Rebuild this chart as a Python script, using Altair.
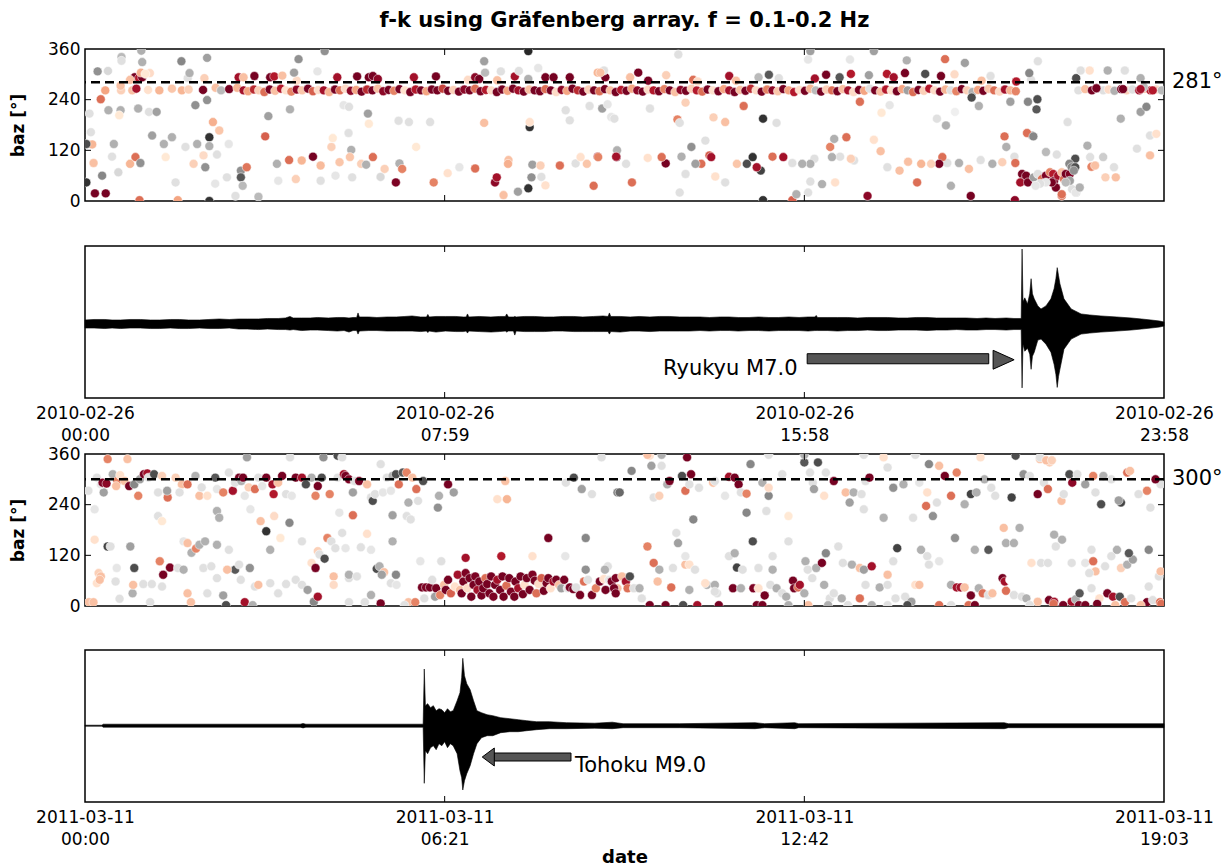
import json
import altair as alt
import pandas as pd

FONT = "DejaVu Sans"
PW = 1079
PH = 152
TITLE = "f-k using Gräfenberg array. f = 0.1-0.2 Hz"

rdgy_stops = [0.0, 0.1, 0.2, 0.3, 0.4, 0.5, 0.6, 0.7, 0.8, 0.9, 1.0]
rdgy_colors = ["#67001f", "#b2182b", "#d6604d", "#f4a582", "#fddbc7", "#ffffff",
               "#e0e0e0", "#bababa", "#878787", "#4d4d4d", "#1a1a1a"]

# ---------------- Ryukyu day (2010-02-26) ----------------
ryukyu_hours = 23.95
ryukyu_ticks = [0.0, 7.983, 15.967, 23.95]
ryukyu_tick_labels = [["2010-02-26", "00:00"], ["2010-02-26", "07:59"],
                      ["2010-02-26", "15:58"], ["2010-02-26", "23:58"]]
ryukyu_ref_baz = 281
ryukyu_ref_label = "281°"

# (hours, baz, colour value)
ryukyu_band = [
    (0.45,262,.30),(0.8,262,.38),(1.05,262,.35),(1.14,266,.08),(1.4,263,.42),(1.65,262,.33),(1.93,266,.36),
    (2.15,262,.33),(2.3,264,.38),(2.62,263,.02),(2.9,268,.35),(3.02,262,.7),(3.2,265,.02),(3.38,268,.33),
    (3.52,262,.08),(3.62,260,.3),(3.75,264,.12),(3.86,262,.38),(3.98,258,.22),(4.1,264,.02),(4.22,261,.35),
    (4.35,266,.1),(4.46,262,.42),(4.58,259,.25),(4.7,264,.05),(4.82,262,.36),(4.95,266,.02),(5.06,260,.2),
    (5.18,263,.4),(5.3,262,.08),(5.42,258,.33),(5.55,264,.02),(5.66,262,.22),(5.78,266,.4),(5.9,261,.05),
    (6.02,263,.3),(6.14,259,.02),(6.26,264,.12),(6.38,262,.02),(6.5,266,.35),(6.62,260,.05),(6.74,263,.02),
    (6.86,261,.25),(6.98,265,.02),(7.1,262,.42),(7.22,258,.02),(7.34,264,.1),(7.46,262,.02),(7.58,260,.3),
    (7.7,264,.02),(7.82,262,.02),(7.94,266,.15),(8.06,261,.02),(8.18,263,.38),(8.3,259,.02),(8.42,264,.05),
    (8.54,262,.02),(8.66,266,.22),(8.78,260,.02),(8.9,263,.1),(9.02,262,.4),(9.14,258,.02),(9.26,264,.02),
    (9.38,261,.3),(9.5,266,.02),(9.62,262,.08),(9.74,259,.02),(9.86,264,.35),(9.98,262,.02),(10.1,260,.02),
    (10.22,265,.22),(10.34,262,.02),(10.46,258,.4),(10.58,263,.05),(10.7,261,.3),(10.82,266,.02),(10.94,262,.12),
    (11.06,259,.02),(11.18,264,.38),(11.3,262,.02),(11.42,260,.22),(11.54,265,.02),(11.66,262,.35),(11.78,258,.02),
    (11.9,263,.1),(12.02,261,.02),(12.14,266,.3),(12.26,262,.05),(12.38,259,.02),(12.5,264,.4),(12.62,262,.1),
    (12.74,260,.02),(12.86,265,.25),(12.98,262,.02),(13.1,258,.35),(13.22,263,.05),(13.34,261,.02),(13.46,266,.38),
    (13.58,262,.1),(13.7,259,.22),(13.82,264,.02),(13.94,262,.42),(14.06,260,.02),(14.18,265,.3),(14.3,262,.08),
    (14.42,258,.02),(14.54,263,.35),(14.66,261,.02),(14.78,266,.12),(14.9,262,.4),(15.02,259,.02),(15.14,264,.25),
    (15.26,262,.05),(15.38,260,.36),(15.5,265,.02),(15.62,262,.3),(15.74,258,.1),(15.86,263,.42),(15.98,261,.02),
    (16.1,266,.33),(16.22,262,.7),(16.34,259,.02),(16.46,264,.38),(16.58,262,.22),(16.7,260,.02),(16.82,265,.35),
    (16.94,262,.08),(17.06,258,.4),(17.18,263,.02),(17.3,261,.3),(17.42,266,.6),(17.54,262,.02),(17.66,259,.35),
    (17.78,264,.1),(17.9,262,.42),(18.02,260,.02),(18.14,265,.3),(18.26,262,.75),(18.38,258,.22),(18.5,263,.02),
    (18.62,261,.38),(18.74,266,.1),(18.86,262,.4),(18.98,259,.02),(19.1,264,.33),(19.22,262,.6),(19.34,260,.25),
    (19.46,265,.02),(19.58,262,.38),(19.7,258,.72),(19.82,263,.3),(19.94,261,.02),(20.06,266,.36),(20.18,262,.22),
    (20.3,259,.4),(20.42,264,.08),(20.54,262,.33),(20.66,260,.25),
    (22.05,262,.6),(22.2,265,.35),(22.35,262,.02),(22.45,267,.02),(22.6,262,.6),(22.72,264,.4),(22.85,261,.72),
    (23.0,265,.02),(23.12,262,.38),(23.25,264,.6),(23.4,262,.08),(23.52,266,.35),(23.65,262,.1),(23.78,264,.4),
    (23.9,262,.7),
]

ryukyu_upper = [
    (1.1,293,.02),(1.2,291,.1),(1.27,293,.02),(1.0,287,.35),(2.65,291,.38),(3.41,293,.08),(3.52,293,.35),
    (3.76,296,.02),(4.11,293,.02),(4.2,295,.1),(4.38,297,.35),(4.7,285,.4),(5.6,293,.08),(6.04,295,.02),
    (6.3,293,.02),(6.39,296,.02),(6.5,289,.05),(7.3,293,.08),(7.79,295,.02),(8.5,287,.4),(8.66,293,.05),
    (8.75,289,.02),(9.15,286,.35),(9.54,295,.08),(10.22,293,.02),(10.4,293,.02),(10.76,293,.02),(11.38,304,.33),
    (11.55,293,.02),(12.28,304,.02),(12.1,293,.35),(12.5,285,.02),(12.9,298,.38),(13.5,287,.22),(13.6,283,.4),
    (14.3,296,.08),(14.45,285,.35),(14.95,293,.7),(15.18,299,.88),(15.4,291,.6),(16.2,290,.08),(16.45,299,.02),
    (16.75,293,.88),(17.0,301,.1),(17.4,298,.75),(17.8,301,.1),(17.95,293,.08),(18.2,303,.02),(18.65,301,.9),
    (19.0,296,.02),(19.3,300,.4),(19.9,285,.35),(20.67,283,.1),(20.1,296,.6),(21.0,287,.6),
]

ryukyu_scatter = [
    (0.1,207,.6),(0.13,163,.6),(0.16,134,.33),(0.03,135,.9),(0.03,44,.95),(0.22,18,.02),(0.46,18,.02),
    (0.19,90,.35),(0.28,307,.78),(0.51,308,.62),(0.38,60,.8),(0.35,241,.22),(0.52,215,.72),(0.79,215,.72),
    (0.64,135,.72),(0.6,105,.6),(0.76,203,.45),(0.79,273,.35),(0.74,68,.62),(0.81,341,.7),(0.81,332,.6),
    (1.24,304,.32),(1.12,104,.22),(1.0,88,.33),(1.23,90,.78),(1.18,219,.72),(1.25,356,.72),(1.27,329,.72),
    (1.42,211,.6),(1.49,155,.75),(1.59,211,.75),(1.44,303,.4),(1.34,301,.45),(1.75,135,.72),(1.93,151,.72),
    (1.79,104,.45),(2.01,44,.6),(2.14,331,.8),(2.28,291,.6),(2.45,227,.78),(2.32,303,.72),(2.23,128,.6),
    (2.41,88,.38),(2.49,135,.72),(2.63,108,.4),(2.67,80,.78),(2.71,239,.78),(2.76,151,.95),(2.76,130,.72),
    (2.71,339,.75),(2.84,187,.32),(2.93,110,.6),(2.98,167,.36),(2.76,0,.95),(2.89,41,.58),(3.19,135,.58),
    (3.15,56,.6),(3.46,72,.78),(3.46,56,.88),(3.5,36,.7),(3.59,80,.23),(3.34,12,.6),(3.85,10,.7),(4.0,153,.2),
    (4.07,201,.75),(4.29,48,.58),(4.26,88,.72),(4.55,217,.72),(4.53,97,.22),(4.68,52,.38),(4.74,336,.78),
    (4.64,304,.75),(4.81,96,.33),(5.06,105,.02),(5.16,307,.58),(5.23,84,.34),(5.23,48,.6),(5.32,355,.78),
    (5.47,128,.38),(5.5,149,.45),(5.56,60,.58),(5.65,92,.36),(5.74,227,.58),(5.86,223,.6),(5.85,161,.6),
    (5.91,121,.72),(5.88,104,.36),(5.93,56,.6),(6.13,88,.38),(6.24,86,.72),(6.28,207,.75),(6.3,183,.45),
    (6.39,104,.22),(6.56,57,.62),(6.65,76,.38),(6.9,44,.03),(6.98,89,.72),(7.04,76,.25),(7.19,187,.6),
    (7.74,44,.25),(8.05,66,.42),(8.31,80,.58),(8.66,77,.22),(8.86,185,.35),(9.1,44,.05),(9.14,56,.08),
    (9.29,14,.35),(9.4,97,.35),(9.39,88,.32),(9.61,22,.75),(9.84,355,.97),(9.87,175,.95),(9.87,187,.42),
    (9.84,30,.95),(9.91,56,.78),(9.93,86,.75),(10.13,57,.6),(10.22,37,.42),(10.11,84,.38),(10.54,84,.22),
    (10.89,89,.6),(11.0,104,.42),(11.14,88,.36),(11.29,36,.22),(11.38,105,.08),(11.48,219,.75),(11.39,104,.25),
    (11.6,229,.58),(11.68,199,.58),(11.81,120,.72),(11.8,104,.02),(8.86,331,.75),(8.88,304,.7),(9.23,307,.6),
    (10.06,315,.58),(9.84,289,.72),(6.96,190,.6),(9.63,308,.6),(11.2,225,.6),(10.67,215,.6),(7.66,187,.6),
    (10.76,191,.6),(11.52,309,.6),(11.44,304,.35),(2.06,2,.3),(1.21,2,.22),(7.35,128,.45),
    (13.17,347,.6),(12.54,219,.6),(13.33,233,.38),(13.15,193,.25),(13.2,185,.6),(13.95,198,.38),(14.21,187,.35),
    (15.05,195,.95),(15.35,185,.6),(14.62,225,.22),(16.05,335,.58),(16.98,335,.58),(17.51,355,.75),(16.1,355,.75),
    (18.24,333,.72),(19.09,336,.22),(19.53,327,.75),(17.2,235,.22),(17.68,209,.45),(17.86,227,.58),(18.91,195,.6),
    (19.11,179,.72),(19.31,211,.55),(19.84,225,.72),(19.68,245,.9),(20.54,235,.75),(20.93,235,.8),(20.96,303,.8),
    (21.14,241,.9),(21.12,217,.88),(21.15,331,.6),(21.81,187,.6),(22.99,195,.72),(23.43,211,.75),(23.56,223,.8),
    (23.64,155,.6),(23.78,159,.42),(23.64,108,.35),(23.35,124,.6),(22.25,131,.72),(22.31,104,.6),(22.6,104,.65),
    (22.84,80,.6),(22.65,56,.38),(22.88,56,.35),(21.98,100,.9),(21.85,88,.8),(22.34,81,.25),(22.42,84,.35),
    (21.91,28,.6),(22.0,20,.72),(21.68,12,.22),(21.33,116,.7),(21.57,110,.6),(21.02,155,.75),(20.91,161,.22),
    (20.41,153,.22),(20.45,128,.72),(20.63,105,.6),(20.65,90,.22),(20.36,92,.38),(20.14,88,.72),(19.88,97,.6),
    (19.62,76,.35),(19.4,90,.72),(19.14,90,.6),(19.03,104,.22),(18.96,88,.02),(18.78,88,.38),(18.56,88,.33),
    (18.27,93,.35),(18.47,44,.22),(19.22,36,.72),(19.66,12,.02),(18.08,72,.35),(17.81,80,.6),(17.66,118,.35),
    (17.51,145,.42),(17.07,96,.6),(17.0,100,.38),(16.76,105,.6),(16.58,104,.72),(16.54,128,.25),(16.63,147,.72),
    (16.9,151,.22),(16.19,100,.6),(16.1,88,.72),(15.92,88,.72),(16.36,40,.72),(16.1,46,.6),(16.65,44,.42),
    (15.7,90,.6),(15.5,104,.08),(15.26,105,.22),(15.0,72,.92),(14.91,80,.08),(14.69,88,.9),(14.82,104,.95),
    (15.05,2,.95),(15.7,2,.2),(15.79,16,.72),(16.05,20,.6),(14.21,44,.6),(13.99,58,.42),(14.47,88,.36),
    (13.86,108,.2),(13.9,104,.08),(13.68,88,.22),(13.46,128,.78),(13.55,88,.75),(13.77,143,.6),(13.24,105,.72),
    (13.33,64,.6),(12.89,89,.02),(12.8,104,.22),(12.49,102,.42),(12.14,44,.22),(12.01,88,.6),(11.79,105,.08),
    (11.75,195,.6),(13.2,20,.6),(17.37,12,.05),(21.05,153,.8),
    (22.0,291,.9),(22.1,309,.6),(22.7,309,.72),(23.08,309,.6),(22.3,309,.42),(23.43,291,.72),(23.5,270,.7),
    (22.45,267,.02),(23.04,265,.02),(23.43,265,.08),(23.7,262,.1),
]

ryukyu_cluster = [
    (20.8,64,.02),(20.84,48,.03),(20.76,44,.08),(20.89,60,.02),(20.93,44,.02),(21.06,56,.75),(21.15,64,.6),
    (21.24,52,.22),(21.33,60,.03),(21.42,68,.25),(21.49,64,.1),(21.51,48,.02),(21.55,32,.02),(21.6,60,.08),
    (21.68,68,.35),(21.73,52,.22),(21.77,64,.02),(21.86,64,.03),(21.9,80,.8),(21.98,80,.9),(21.95,72,.78),
    (21.86,48,.75),(21.77,44,.7),(21.68,16,.22),(21.46,44,.02),(21.33,44,.58),(21.2,41,.6),(21.1,36,.58),
    (21.99,20,.58),(22.08,32,.72),(20.64,2,.05),
]

# waveform envelope: (hours, upper, lower), amplitude in arbitrary units
ryukyu_wave = [
    (0.0,4,-4),(0.2,4.5,-4),(0.44,4.5,-4.5),(0.6,4,-4),(0.79,4,-4.5),(1.0,4.5,-4),(1.23,4.5,-4),(1.45,4,-4.5),
    (1.66,4,-4.5),(1.9,4.5,-4),(2.1,4.5,-4.5),(2.3,4,-4.5),(2.54,4,-4),(2.75,4.5,-4.5),(2.98,5,-4.5),
    (3.2,4.5,-4),(3.41,5,-5),(3.6,5,-5),(3.85,5,-5.5),(4.05,5.5,-5),(4.29,5.5,-5.5),(4.45,6,-5.5),
    (4.55,7.5,-6),(4.62,6,-5.5),(4.81,6,-6.5),(5.0,6,-6),(5.16,6.5,-6),(5.4,6,-6.5),(5.6,6.5,-7),
    (5.75,6.5,-6.5),(5.86,6,-8),(5.95,6.5,-6.5),(6.03,6.5,-6.5),(6.06,11,-10),(6.09,7,-7),(6.3,7,-6.5),
    (6.48,6.5,-6.5),(6.7,7,-7),(6.91,7,-7),(7.1,7.5,-7),(7.26,8,-7),(7.45,7,-7.5),(7.58,7,-7),(7.61,9.5,-8.5),
    (7.64,7,-7),(7.79,7.5,-8),(8.0,7.5,-7),(8.23,7.5,-7.5),(8.4,7,-7.5),(8.46,7,-7),(8.49,10,-9),(8.52,7,-7),
    (8.75,7.5,-7.5),(9.01,7,-8),(9.2,7.5,-7.5),(9.33,7.5,-7),(9.36,10,-8),(9.4,7,-7),(9.51,7,-7),
    (9.54,7.5,-11),(9.57,7,-7),(9.75,7.5,-7.5),(9.98,7.5,-7.5),(10.2,7,-7.5),(10.4,7,-7),(10.6,7.5,-7),
    (10.85,7.5,-7.5),(11.05,7,-7.5),(11.29,7.5,-7.5),(11.5,8,-7.5),(11.61,7.5,-7.5),(11.64,11,-10),
    (11.67,7.5,-7.5),(11.88,7.5,-8),(12.1,7,-7),(12.3,7.5,-7),(12.54,7,-7.5),(12.75,7.5,-7),(12.98,7.5,-7),
    (13.2,7,-7),(13.42,7,-7),(13.65,7,-6.5),(13.86,6.5,-7),(14.1,7,-6.5),(14.3,7,-6.5),(14.5,6.5,-7),
    (14.74,6.5,-6.5),(14.95,7,-6.5),(15.18,6.5,-7),(15.4,6.5,-6.5),(15.62,7,-6.5),(15.85,6.5,-6.5),
    (16.05,7,-7),(16.2,7,-6.5),(16.23,8.5,-6.5),(16.26,6.5,-6.5),(16.49,6.5,-6.5),(16.7,6.5,-7),
    (16.93,6.5,-6.5),(17.15,6,-6.5),(17.37,6.5,-6),(17.6,6.5,-6.5),(17.81,6.5,-6.5),(18.05,6,-6),(18.25,6,-6),
    (18.45,6.5,-6),(18.69,6.5,-6.5),(18.9,6,-6),(19.13,6,-6),(19.35,6,-5.5),(19.56,6,-6),(19.8,5.5,-6),
    (20.0,6,-5.5),(20.2,5.5,-5.5),(20.45,6,-6),(20.62,5.5,-5.5),(20.78,5.5,-5.5),
    (20.8,74.5,-63.5),(20.82,22,-20),(20.86,26,-27),(20.92,20,-24),(20.97,30,-30),(21.0,45,-45),(21.03,30,-32),
    (21.07,25,-28),(21.15,18,-16),(21.22,15,-15),(21.33,18,-20),(21.44,25,-28),(21.51,35,-40),(21.55,45,-50),
    (21.58,56,-63),(21.61,48,-52),(21.64,40,-45),(21.73,25,-25),(21.89,15,-15),(22.11,10,-10),(22.3,9,-9),
    (22.55,8,-8),(22.9,7,-7),(23.22,6,-6),(23.45,5,-5),(23.66,4,-4),(23.85,3,-3),(23.95,2,-2),
]
ryukyu_amp_domain = [-73.5, 77.5]
ryukyu_note = "Ryukyu M7.0"
ryukyu_note_at = (12.83, -44.5)
ryukyu_shaft = (16.03, 20.06, -29.5, -39.5)
ryukyu_head_at = (20.39, -35.5)
ryukyu_head_path = "M1,0L-1,-0.9L-1,0.9Z"
ryukyu_head_size = 441

# ---------------- Tohoku day (2011-03-11) ----------------
tohoku_hours = 19.05
tohoku_ticks = [0.0, 6.35, 12.7, 19.05]
tohoku_tick_labels = [["2011-03-11", "00:00"], ["2011-03-11", "06:21"],
                      ["2011-03-11", "12:42"], ["2011-03-11", "19:03"]]
tohoku_ref_baz = 300
tohoku_ref_label = "300°"

tohoku_upper = [
    (0.06,273,.6),(0.21,304,.6),(0.33,269,.75),(0.28,288,.58),(0.31,292,.03),(0.38,290,.05),(0.4,348,.25),
    (0.49,312,.72),(0.57,296,.25),(0.55,284,.35),(0.62,310,.42),(0.7,296,.35),(0.75,348,.35),(0.78,284,.02),
    (0.87,288,.8),(0.94,261,.25),(0.97,300,.75),(1.04,312,.02),(1.1,314,.08),(1.12,304,.6),(1.22,312,.9),
    (1.29,269,.6),(1.36,308,.38),(1.46,257,.22),(1.45,273,.75),(1.6,304,.38),(1.71,288,.35),(1.67,269,.6),
    (1.81,288,.22),(1.95,308,.72),(2.02,261,.35),(2.06,281,.6),(2.16,261,.42),(2.3,304,.88),(2.33,277,.58),
    (2.44,269,.25),(2.54,316,.6),(2.61,273,.08),(2.65,292,.6),(2.72,304,.02),(2.76,296,.72),(2.79,304,.02),
    (2.82,261,.58),(2.86,352,.75),(2.89,281,.38),(2.92,229,.58),(3.0,277,.22),(3.06,304,.6),(3.13,284,.58),
    (3.2,304,.02),(3.31,288,.08),(3.33,265,.1),(3.41,292,.35),(3.48,308,.02),(3.55,265,.6),(3.62,352,.6),
    (3.65,261,.58),(3.72,304,.02),(3.83,304,.08),(3.9,288,.9),(4.0,304,.72),(4.07,261,.25),(4.11,284,.02),
    (4.18,304,.9),(4.21,352,.78),(4.32,265,.25),(4.46,356,.9),(4.46,304,.6),(4.54,352,.6),(4.57,312,.08),
    (4.6,308,.02),(4.66,300,.03),(4.73,269,.75),(4.76,296,.6),(4.84,296,.02),(4.98,288,.35),(5.05,257,.6),
    (5.08,249,.9),(5.12,265,.6),(5.22,336,.6),(5.26,269,.58),(5.33,304,.6),(5.4,273,.58),(5.43,308,.72),
    (5.49,312,.9),(5.54,288,.22),(5.61,316,.88),(5.68,316,.25),(5.71,245,.72),(5.78,304,.35),(5.85,277,.22),
    (5.88,249,.6),(5.97,296,.9),(6.25,261,.72),(6.23,233,.78),(6.41,288,.02),(6.51,269,.75),(7.42,296,.35),
    (7.28,253,.42),(7.45,253,.33),(8.49,292,.6),(8.63,304,.9),(8.77,277,.75),(8.95,265,.6),(9.12,352,.6),
    (9.4,269,.8),
]

tohoku_mid = [
    (0.17,157,.42),(0.4,141,.92),(0.45,141,.6),(0.17,229,.58),(0.24,78,.38),(0.28,70,.35),(0.21,54,.42),
    (0.56,90,.58),(0.8,141,.75),(0.87,90,.9),(1.29,213,.6),(1.36,201,.45),(1.32,106,.25),(1.38,74,.02),
    (1.5,91,.03),(1.64,90,.6),(1.74,86,.72),(1.74,153,.58),(1.81,149,.35),(1.88,126,.72),(1.96,136,.25),
    (2.02,145,.72),(2.12,153,.72),(2.09,90,.6),(2.23,94,.6),(2.33,225,.72),(2.37,209,.72),(2.54,133,.6),
    (2.33,145,.72),(2.65,86,.88),(2.72,98,.6),(2.91,90,.78),(2.75,62,.6),(2.51,86,.35),(3.1,201,.35),
    (3.2,177,.95),(3.27,133,.72),(3.34,213,.4),(3.45,161,.45),(3.61,197,.8),(3.72,62,.6),(3.83,153,.6),
    (4.0,102,.42),(4.07,90,.02),(4.11,130,.38),(4.14,122,.6),(4.23,112,.9),(4.28,161,.25),(4.35,153,.6),
    (4.42,137,.6),(4.39,70,.35),(4.49,221,.58),(4.54,173,.6),(4.6,137,.58),(4.66,66,.6),(4.73,215,.22),
    (4.66,74,.72),(4.8,70,.6),(4.87,139,.6),(4.98,171,.42),(5.05,133,.58),(5.15,88,.9),(5.2,94,.72),
    (5.28,80,.35),(5.24,74,.75),(5.43,215,.75),(5.43,153,.72),(5.49,74,.8),(5.68,213,.6),(5.75,205,.6),
    (5.92,106,.58),(6.29,106,.6),(6.72,114,.08),(7.35,118,.1),(7.9,118,.42),(8.18,161,.02),(8.48,118,.58),
    (8.84,161,.8),(9.23,94,.6),(9.18,86,.72),
    (0.07,9,.35),(0.15,9,.35),(0.26,62,.35),(0.54,58,.6),(0.61,17,.6),(0.84,30,.72),(0.85,50,.35),
    (1.03,52,.6),(1.18,52,.6),(1.15,9,.6),(1.36,46,.6),(1.87,9,.35),(1.81,30,.35),(2.16,30,.6),(2.33,66,.6),
    (2.44,25,.75),(2.49,2,.9),(2.82,9,.08),(2.96,2,.72),(3.0,46,.6),(3.06,50,.35),(3.27,54,.6),(3.41,30,.6),
    (3.55,52,.6),(3.83,50,.6),(3.93,38,.75),(4.04,10,.8),(4.11,22,.08),(4.39,50,.4),(4.66,9,.6),(4.94,9,.6),
    (5.05,26,.72),(5.22,6,.02),(5.4,54,.6),(5.5,50,.58),(5.71,9,.35),(5.83,9,.25),(5.64,2,.6),(5.99,18,.6),
]

tohoku_cluster = [
    (5.95,44,.02),(6.02,44,.03),(6.09,44,.02),(6.13,62,.6),(6.18,22,.75),(6.2,42,.02),(6.27,26,.25),
    (6.34,50,.35),(6.37,38,.02),(6.41,62,.02),(6.46,30,.2),(6.53,46,.42),(6.58,74,.08),(6.62,38,.35),
    (6.65,30,.02),(6.68,58,.02),(6.72,78,.03),(6.75,42,.4),(6.79,66,.02),(6.82,22,.02),(6.86,50,.02),
    (6.89,70,.03),(6.93,38,.08),(6.96,58,.02),(7.0,25,.02),(7.03,42,.02),(7.07,66,.22),(7.1,52,.02),
    (7.14,30,.02),(7.17,70,.02),(7.21,22,.03),(7.24,50,.02),(7.28,62,.08),(7.33,38,.02),(7.37,70,.02),
    (7.39,22,.02),(7.44,48,.22),(7.49,66,.02),(7.52,34,.03),(7.58,22,.02),(7.6,58,.02),(7.65,42,.08),
    (7.69,70,.02),(7.73,28,.02),(7.76,50,.42),(7.8,66,.02),(7.85,38,.02),(7.9,74,.03),(7.94,60,.02),
    (7.97,30,.22),(8.01,52,.4),(8.06,66,.2),(8.1,36,.02),(8.15,54,.02),(8.18,66,.02),(8.22,42,.42),
    (8.27,58,.08),(8.32,62,.02),(8.37,50,.35),(8.41,42,.75),(8.46,62,.02),(8.52,42,.58),(8.56,44,.02),
    (8.62,40,.02),(8.67,44,.6),(8.74,26,.02),(8.81,58,.22),(8.84,86,.78),(8.88,62,.6),(8.95,26,.02),
    (9.02,42,.25),(9.09,58,.02),(9.16,64,.42),(9.19,38,.02),(9.25,62,.58),(9.3,58,.02),(9.37,66,.03),
    (9.4,42,.35),(9.34,42,.02),(9.37,30,.02),(9.48,70,.35),(9.55,58,.08),(9.62,70,.9),(9.58,42,.22),
    (9.69,42,.6),(9.79,42,.72),(9.83,18,.6),
]

tohoku_right = [
    (9.65,320,.8),(9.44,269,.85),(9.97,356,.42),(10.0,332,.75),(10.18,332,.6),(10.04,257,.6),(10.14,261,.38),
    (10.28,288,.72),(10.32,296,.02),(10.54,308,.9),(10.6,273,.22),(10.63,352,.02),(10.7,312,.02),(10.74,205,.8),
    (10.67,288,.6),(10.84,280,.6),(11.09,292,.35),(11.12,296,.6),(11.3,261,.58),(11.37,306,.08),(11.47,304,.02),
    (11.54,288,.02),(11.58,269,.6),(11.68,266,.25),(11.68,221,.8),(11.75,336,.8),(11.96,292,.72),(12.03,225,.6),
    (12.07,261,.8),(12.07,280,.4),(12.31,312,.6),(12.42,213,.45),(12.7,340,.88),(12.8,316,.6),(12.85,292,.6),
    (12.87,277,.75),(12.94,340,.9),(13.05,261,.42),(13.08,316,.6),(13.22,296,.02),(13.43,269,.35),(13.5,245,.75),
    (13.57,269,.72),(13.71,265,.6),(13.75,229,.6),(13.78,296,.6),(13.85,304,.02),(14.1,209,.72),(14.17,328,.6),
    (14.27,280,.78),(14.45,288,.72),(14.62,209,.6),(14.73,292,.58),(14.9,336,.8),(14.87,269,.42),(14.85,237,.22),
    (14.97,213,.78),(15.04,245,.6),(15.08,332,.35),(15.18,308,.02),(15.29,261,.22),(15.39,316,.25),(15.53,241,.72),
    (15.64,265,.92),(15.74,269,.72),(15.81,352,.42),(15.88,300,.72),(16.0,280,.6),(16.07,261,.6),(16.36,257,.92),
    (16.43,356,.9),(16.57,312,.78),(16.68,308,.6),(16.82,265,.02),(16.86,348,.35),(16.93,292,.6),(17.0,277,.22),
    (17.03,340,.38),(17.24,249,.35),(17.28,265,.6),(17.38,312,.9),(17.43,292,.05),(17.52,312,.6),(17.66,288,.75),
    (17.8,308,.25),(17.84,269,.6),(17.94,241,.9),(17.98,308,.72),(18.12,300,.6),(18.29,245,.92),(18.25,250,.75),
    (18.4,316,.22),(18.45,320,.35),(18.6,265,.6),(18.75,273,.25),(18.81,233,.6),(18.99,288,.6),(18.9,300,.02),
    (9.93,141,.25),(10.47,149,.75),(10.44,173,.6),(10.6,98,.35),(10.04,102,.22),(10.14,86,.72),(10.38,90,.6),
    (10.6,118,.58),(10.67,98,.42),(10.77,86,.6),(10.98,50,.72),(11.16,30,.6),(11.37,118,.6),(11.47,125,.72),
    (11.51,91,.92),(11.61,86,.6),(11.79,153,.9),(11.89,90,.6),(12.14,86,.72),(12.14,118,.6),(12.42,153,.6),
    (12.72,106,.72),(12.76,86,.6),(12.91,90,.72),(13.01,102,.02),(13.08,125,.8),(13.3,141,.6),(13.38,102,.6),
    (13.54,98,.72),(13.68,90,.35),(13.75,86,.75),(13.89,94,.08),(14.17,74,.35),(14.34,137,.92),(14.27,106,.6),
    (14.76,133,.72),(14.87,118,.6),(14.9,98,.6),(15.08,106,.58),(15.36,161,.78),(15.71,133,.72),(15.95,133,.88),
    (16.22,185,.35),(16.26,149,.72),(16.4,149,.72),(16.5,185,.72),(16.71,102,.42),(16.88,102,.6),(17.0,102,.6),
    (17.11,169,.72),(17.14,141,.6),(17.25,157,.72),(17.42,102,.6),(17.66,102,.58),(17.77,133,.6),(17.8,106,.22),
    (17.84,82,.35),(17.73,78,.6),(18.01,94,.6),(18.12,118,.6),(18.22,133,.72),(18.29,90,.38),(18.4,98,.72),
    (18.5,110,.75),(18.43,125,.88),(18.78,133,.8),(18.96,70,.6),(18.99,82,.35),
    (10.11,58,.35),(10.35,44,.22),(10.67,38,.72),(10.95,54,.42),(11.12,50,.72),(11.12,34,.6),(11.44,42,.02),
    (11.58,42,.72),(11.8,42,.03),(11.89,42,.42),(12.0,25,.02),(12.1,50,.6),(12.21,42,.72),(12.31,30,.6),
    (12.38,22,.72),(12.5,60,.02),(12.52,42,.02),(12.59,44,.22),(12.62,50,.08),(12.7,30,.72),(12.84,66,.6),
    (13.05,50,.72),(13.15,18,.6),(13.22,30,.6),(13.36,18,.72),(13.68,18,.22),(13.78,50,.6),(14.03,44,.72),
    (14.17,50,.6),(14.31,18,.6),(14.48,22,.6),(14.59,10,.75),(14.66,50,.42),(14.73,50,.35),(15.29,50,.72),
    (15.39,44,.08),(15.46,44,.08),(15.53,44,.35),(15.64,25,.02),(15.78,42,.72),(15.85,30,.22),(15.95,26,.6),
    (16.02,30,.35),(16.2,66,.02),(16.24,58,.08),(16.33,62,.5),(16.26,36,.22),(16.4,26,.6),(16.54,22,.6),
    (16.62,18,.72),(16.82,10,.35),(17.02,14,.02),(17.11,10,.08),(17.42,10,.08),(17.49,16,.72),(17.56,30,.88),
    (17.77,42,.6),(17.91,18,.42),(18.05,30,.02),(18.15,22,.08),(18.27,22,.9),(18.36,9,.22),(18.47,18,.6),
    (18.75,9,.02),(18.85,14,.6),(18.98,9,.22),(18.78,46,.6),
    (9.97,2,.02),(10.25,2,.02),(10.56,2,.9),(10.81,2,.08),(11.19,2,.02),(11.86,2,.02),(11.96,2,.02),
    (12.42,2,.72),(12.77,2,.35),(13.12,2,.72),(13.47,2,.6),(13.89,2,.72),(14.17,2,.6),(14.52,2,.9),
    (15.08,2,.22),(15.29,2,.6),(15.6,2,.22),(15.71,2,.02),(16.68,2,.6),(17.1,5,.22),(17.27,2,.02),
    (17.55,2,.02),(17.66,2,.02),(17.87,5,.02),(18.19,2,.35),(18.64,2,.35),(19.0,5,.22),
    (9.93,358,.35),(10.18,358,.72),(12.07,358,.6),(12.7,358,.72),(13.75,358,.6),(14.1,352,.42),(14.66,358,.6),
    (16.86,352,.6),(16.97,345,.35),(17.07,345,.38),
]

tohoku_wave = [
    (0.0,0.5,-0.5),(0.3,0.5,-0.5),(0.32,1.5,-1.5),(3.8,1.5,-1.5),(3.85,2.2,-2.2),(3.9,1.5,-1.5),
    (5.97,1.5,-1.5),(5.99,56.7,-57.6),(6.01,20,-25),(6.05,22,-28),(6.1,18,-22),(6.15,20,-20),(6.2,15,-24),
    (6.25,17,-18),(6.3,16,-20),(6.35,13,-16),(6.4,17,-22),(6.45,14,-18),(6.5,15,-20),(6.57,25,-28),
    (6.62,33,-45),(6.65,48,-52),(6.67,67.4,-64.3),(6.7,50,-55),(6.74,42,-48),(6.8,36,-40),(6.86,25,-28),
    (6.92,15,-18),(7.0,13,-12),(7.1,11,-10),(7.2,10,-10),(7.34,8,-7),(7.5,7,-6),(7.65,6,-6),(7.8,5,-5),
    (7.97,4,-4),(8.2,4,-3),(8.5,3,-3),(9.0,2.5,-2.5),(9.31,3.5,-3),(9.5,2,-2),(10.5,2,-2),(11.83,3,-3),
    (12.0,2,-2),(12.53,3,-3),(12.6,2,-2),(16.23,3,-3),(16.3,2,-2),(19.05,2,-2),
]
tohoku_amp_domain = [-76.3, 75.7]
tohoku_note = "Tohoku M9.0"
tohoku_note_at = (8.65, -40)
tohoku_shaft = (7.22, 8.58, -27.3, -35.3)
tohoku_head_at = (7.12, -31.3)
tohoku_head_path = "M-0.67,0L0.67,-1L0.67,1Z"
tohoku_head_size = 324

# ---------------- helpers ----------------
color_scale = alt.Scale(domain=rdgy_stops, range=rdgy_colors)


def label_expr(ticks, labels):
    parts = []
    for i in range(len(ticks) - 1):
        mid = (ticks[i] + ticks[i + 1]) / 2
        parts.append(f"datum.value < {mid} ? {json.dumps(labels[i])} : ")
    return "".join(parts) + json.dumps(labels[-1])


def inner_xticks(X, ticks):
    df = pd.DataFrame({"t": ticks[1:-1]})
    top = alt.Chart(df).mark_rule(color="black", strokeWidth=1).encode(
        x=X, y=alt.value(0), y2=alt.value(6))
    bot = alt.Chart(df).mark_rule(color="black", strokeWidth=1).encode(
        x=X, y=alt.value(PH - 6), y2=alt.value(PH))
    return [top, bot]


def scatter_panel(points, hours, ticks, ref_baz, ref_label):
    X = alt.X("t:Q", scale=alt.Scale(domain=[0, hours], nice=False, zero=False), axis=None)
    Y = alt.Y("baz:Q", scale=alt.Scale(domain=[0, 360], nice=False, zero=False),
              axis=alt.Axis(values=[0, 120, 240, 360], title="baz [°]", ticks=False, domain=False,
                            grid=False, labelFont=FONT, labelFontSize=17, labelColor="black",
                            labelPadding=5, labelFlush=False, labelOverlap=False, labelBound=False,
                            titleFont=FONT, titleFontSize=17, titleFontWeight="bold",
                            titleColor="black", titlePadding=20))
    df = pd.DataFrame(points, columns=["t", "baz", "c"])
    pts = alt.Chart(df).mark_circle(size=80, opacity=1, stroke="white", strokeWidth=0.5,
                                    clip=True).encode(
        x=X, y=Y, color=alt.Color("c:Q", scale=color_scale, legend=None))
    ref_df = pd.DataFrame({"baz": [ref_baz], "label": [ref_label]})
    ref = alt.Chart(ref_df).mark_rule(color="black", strokeWidth=2.5, strokeDash=[9, 5]).encode(y=Y)
    lab = alt.Chart(ref_df).mark_text(align="left", baseline="middle", font=FONT, fontSize=21,
                                      color="black").encode(
        x=alt.value(PW + 8), y=Y, text="label:N")
    yt = pd.DataFrame({"baz": [120, 240]})
    ytl = alt.Chart(yt).mark_rule(color="black", strokeWidth=1).encode(
        y=Y, x=alt.value(0), x2=alt.value(6))
    ytr = alt.Chart(yt).mark_rule(color="black", strokeWidth=1).encode(
        y=Y, x=alt.value(PW - 6), x2=alt.value(PW))
    layers = [pts, ref, lab, ytl, ytr] + inner_xticks(X, ticks)
    return alt.layer(*layers).properties(width=PW, height=PH)


def wave_panel(wave, hours, ticks, labels, amp_domain, note, note_at, shaft, head_at, head_path,
               head_size, xtitle=None):
    axis_kw = dict(values=ticks, labelExpr=label_expr(ticks, labels), ticks=False, domain=False,
                   grid=False, labelFont=FONT, labelFontSize=17, labelColor="black",
                   labelPadding=7, labelLineHeight=22, labelFlush=False, labelOverlap=False,
                   labelBound=False, title=xtitle)
    if xtitle:
        axis_kw.update(titleFont=FONT, titleFontSize=18, titleFontWeight="bold",
                       titleColor="black", titlePadding=1)
    X = alt.X("t:Q", scale=alt.Scale(domain=[0, hours], nice=False, zero=False),
              axis=alt.Axis(**axis_kw))
    ys = alt.Scale(domain=amp_domain, nice=False, zero=False)
    df = pd.DataFrame(wave, columns=["t", "hi", "lo"])
    area = alt.Chart(df).mark_area(color="black", stroke="black", strokeWidth=0.6,
                                   orient="vertical").encode(
        x=X, y=alt.Y("hi:Q", scale=ys, axis=None), y2="lo:Q")
    sdf = pd.DataFrame({"t": [shaft[0]], "t2": [shaft[1]], "a": [shaft[2]], "a2": [shaft[3]]})
    rect = alt.Chart(sdf).mark_rect(color="#555555", stroke="black", strokeWidth=1).encode(
        x=X, x2="t2:Q", y=alt.Y("a:Q", scale=ys, axis=None), y2="a2:Q")
    hdf = pd.DataFrame({"t": [head_at[0]], "a": [head_at[1]]})
    head = alt.Chart(hdf).mark_point(shape=head_path, filled=True, size=head_size, opacity=1,
                                     color="#555555", stroke="black", strokeWidth=1).encode(
        x=X, y=alt.Y("a:Q", scale=ys, axis=None))
    ndf = pd.DataFrame({"t": [note_at[0]], "a": [note_at[1]], "label": [note]})
    text = alt.Chart(ndf).mark_text(align="left", baseline="middle", font=FONT, fontSize=21,
                                    color="black").encode(
        x=X, y=alt.Y("a:Q", scale=ys, axis=None), text="label:N")
    layers = [area, rect, head, text] + inner_xticks(X, ticks)
    return alt.layer(*layers).properties(width=PW, height=PH)


p1 = scatter_panel(ryukyu_band + ryukyu_upper + ryukyu_scatter + ryukyu_cluster,
                   ryukyu_hours, ryukyu_ticks, ryukyu_ref_baz, ryukyu_ref_label)
p1 = p1.properties(title=alt.TitleParams(text=TITLE, font=FONT, fontSize=21, fontWeight="bold",
                                         color="black", anchor="middle", offset=9))
p2 = wave_panel(ryukyu_wave, ryukyu_hours, ryukyu_ticks, ryukyu_tick_labels, ryukyu_amp_domain,
                ryukyu_note, ryukyu_note_at, ryukyu_shaft, ryukyu_head_at, ryukyu_head_path,
                ryukyu_head_size)
p3 = scatter_panel(tohoku_upper + tohoku_mid + tohoku_cluster + tohoku_right,
                   tohoku_hours, tohoku_ticks, tohoku_ref_baz, tohoku_ref_label)
p4 = wave_panel(tohoku_wave, tohoku_hours, tohoku_ticks, tohoku_tick_labels, tohoku_amp_domain,
                tohoku_note, tohoku_note_at, tohoku_shaft, tohoku_head_at, tohoku_head_path,
                tohoku_head_size, xtitle="date")

top = alt.vconcat(p1, p2, spacing=34)
bottom = alt.vconcat(p3, p4, spacing=33)
chart = alt.vconcat(top, bottom, spacing=0).properties(
    padding={"left": 0, "top": 1, "right": 0, "bottom": 0}, background="white"
).configure_view(stroke="black", strokeWidth=1.5)

chart.save("out.html", embed_options={"renderer": "svg", "actions": False})
